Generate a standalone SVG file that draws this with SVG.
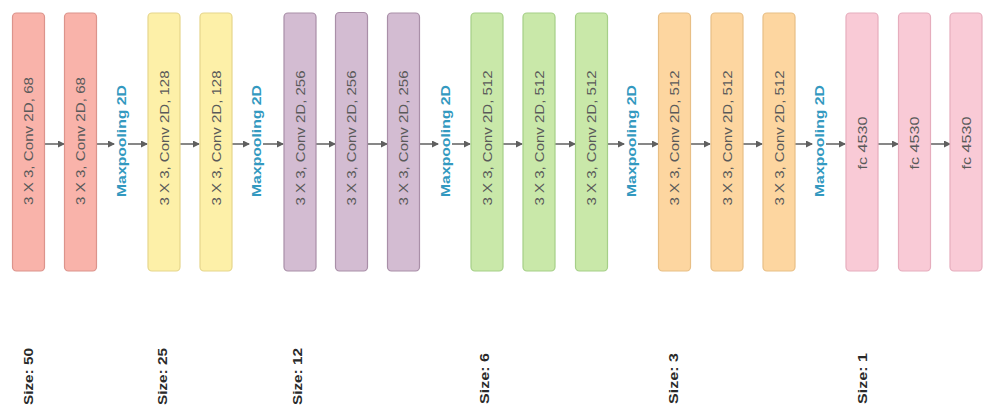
<svg xmlns="http://www.w3.org/2000/svg" width="989" height="413" viewBox="0 0 989 413">
  <style>
    .box { stroke-width: 1.2; }
    .c1 { fill: #f9b3aa; stroke: #dc948c; }
    .c2 { fill: #fdf0a8; stroke: #e6d68c; }
    .c3 { fill: #d3bcd2; stroke: #a98fa8; }
    .c4 { fill: #c9e8a9; stroke: #a6cf88; }
    .c5 { fill: #fdd6a0; stroke: #e8bf86; }
    .c6 { fill: #f9cad6; stroke: #e6adbd; }
    .lbl { font-family: "Liberation Sans", Arial, sans-serif; font-size: 13px; fill: #5a5a5a; text-anchor: middle; dominant-baseline: central; }
    .mp { font-family: "Liberation Sans", Arial, sans-serif; font-size: 13.5px; font-weight: bold; fill: #3399c0; text-anchor: middle; dominant-baseline: central; }
    .size { font-family: "Liberation Sans", Arial, sans-serif; font-size: 13.5px; font-weight: bold; fill: #2a2a2a; text-anchor: start; dominant-baseline: central; }
    .arr { stroke: #5f5f5f; stroke-width: 1.5; fill: none; marker-end: url(#ah); }
  </style>
  <defs>
    <marker id="ah" markerWidth="7" markerHeight="7" refX="6" refY="3.5" orient="auto" markerUnits="userSpaceOnUse">
      <path d="M0,0 L7,3.5 L0,7 Z" fill="#5f5f5f"/>
    </marker>
  </defs>
  <rect width="989" height="413" fill="#ffffff"/>

  <g id="connectors">
    <path class="arr" d="M45,144 H64"/>
    <path class="arr" d="M97,144 H114"/>
    <path class="arr" d="M128,144 H147"/>
    <path class="arr" d="M180,144 H199"/>
    <path class="arr" d="M232,144 H249"/>
    <path class="arr" d="M263,144 H283"/>
    <path class="arr" d="M316,144 H335"/>
    <path class="arr" d="M367,144 H387"/>
    <path class="arr" d="M419,144 H438"/>
    <path class="arr" d="M452,144 H470"/>
    <path class="arr" d="M503,144 H522"/>
    <path class="arr" d="M555,144 H575"/>
    <path class="arr" d="M607,144 H624"/>
    <path class="arr" d="M638,144 H658"/>
    <path class="arr" d="M690,144 H710"/>
    <path class="arr" d="M743,144 H762"/>
    <path class="arr" d="M795,144 H812"/>
    <path class="arr" d="M826,144 H845"/>
    <path class="arr" d="M878,144 H898"/>
    <path class="arr" d="M930,144 H950"/>
  </g>

  <g id="conv1a"><rect class="box c1" x="12.5" y="13" width="32" height="258" rx="4"/><text class="lbl" textLength="128" lengthAdjust="spacingAndGlyphs" transform="translate(28.5,141) rotate(-90)">3 X 3, Conv 2D, 68</text></g>
  <g id="conv1b"><rect class="box c1" x="64.5" y="13" width="32" height="258" rx="4"/><text class="lbl" textLength="128" lengthAdjust="spacingAndGlyphs" transform="translate(80.5,141) rotate(-90)">3 X 3, Conv 2D, 68</text></g>
  <g id="pool1"><text class="mp" textLength="112" lengthAdjust="spacingAndGlyphs" transform="translate(121.5,141) rotate(-90)">Maxpooling 2D</text></g>
  <g id="conv2a"><rect class="box c2" x="148" y="13" width="32" height="258" rx="4"/><text class="lbl" textLength="135" lengthAdjust="spacingAndGlyphs" transform="translate(164,138) rotate(-90)">3 X 3, Conv 2D, 128</text></g>
  <g id="conv2b"><rect class="box c2" x="200" y="13" width="32" height="258" rx="4"/><text class="lbl" textLength="135" lengthAdjust="spacingAndGlyphs" transform="translate(216,138) rotate(-90)">3 X 3, Conv 2D, 128</text></g>
  <g id="pool2"><text class="mp" textLength="112" lengthAdjust="spacingAndGlyphs" transform="translate(256,141) rotate(-90)">Maxpooling 2D</text></g>
  <g id="conv3a"><rect class="box c3" x="284" y="13" width="32" height="258" rx="4"/><text class="lbl" textLength="135" lengthAdjust="spacingAndGlyphs" transform="translate(300,138) rotate(-90)">3 X 3, Conv 2D, 256</text></g>
  <g id="conv3b"><rect class="box c3" x="335.5" y="12.5" width="32" height="258.5" rx="4"/><text class="lbl" textLength="135" lengthAdjust="spacingAndGlyphs" transform="translate(351.5,138) rotate(-90)">3 X 3, Conv 2D, 256</text></g>
  <g id="conv3c"><rect class="box c3" x="387.5" y="13" width="32" height="258" rx="4"/><text class="lbl" textLength="135" lengthAdjust="spacingAndGlyphs" transform="translate(403.5,138) rotate(-90)">3 X 3, Conv 2D, 256</text></g>
  <g id="pool3"><text class="mp" textLength="112" lengthAdjust="spacingAndGlyphs" transform="translate(445,141) rotate(-90)">Maxpooling 2D</text></g>
  <g id="conv4a"><rect class="box c4" x="471" y="13" width="32" height="258" rx="4"/><text class="lbl" textLength="135" lengthAdjust="spacingAndGlyphs" transform="translate(487,138) rotate(-90)">3 X 3, Conv 2D, 512</text></g>
  <g id="conv4b"><rect class="box c4" x="523" y="13" width="32" height="258" rx="4"/><text class="lbl" textLength="135" lengthAdjust="spacingAndGlyphs" transform="translate(539,138) rotate(-90)">3 X 3, Conv 2D, 512</text></g>
  <g id="conv4c"><rect class="box c4" x="575.5" y="13" width="32" height="258" rx="4"/><text class="lbl" textLength="135" lengthAdjust="spacingAndGlyphs" transform="translate(591.5,138) rotate(-90)">3 X 3, Conv 2D, 512</text></g>
  <g id="pool4"><text class="mp" textLength="112" lengthAdjust="spacingAndGlyphs" transform="translate(631,141) rotate(-90)">Maxpooling 2D</text></g>
  <g id="conv5a"><rect class="box c5" x="658.5" y="13" width="32" height="258" rx="4"/><text class="lbl" textLength="135" lengthAdjust="spacingAndGlyphs" transform="translate(674.5,138) rotate(-90)">3 X 3, Conv 2D, 512</text></g>
  <g id="conv5b"><rect class="box c5" x="711" y="13" width="32" height="258" rx="4"/><text class="lbl" textLength="135" lengthAdjust="spacingAndGlyphs" transform="translate(727,138) rotate(-90)">3 X 3, Conv 2D, 512</text></g>
  <g id="conv5c"><rect class="box c5" x="763" y="13" width="32" height="258" rx="4"/><text class="lbl" textLength="135" lengthAdjust="spacingAndGlyphs" transform="translate(779,138) rotate(-90)">3 X 3, Conv 2D, 512</text></g>
  <g id="pool5"><text class="mp" textLength="112" lengthAdjust="spacingAndGlyphs" transform="translate(819.5,141) rotate(-90)">Maxpooling 2D</text></g>
  <g id="fc1"><rect class="box c6" x="846" y="13" width="32" height="258" rx="4"/><text class="lbl" textLength="53" lengthAdjust="spacingAndGlyphs" transform="translate(862,143) rotate(-90)">fc 4530</text></g>
  <g id="fc2"><rect class="box c6" x="898.5" y="13" width="32" height="258" rx="4"/><text class="lbl" textLength="53" lengthAdjust="spacingAndGlyphs" transform="translate(914.5,143) rotate(-90)">fc 4530</text></g>
  <g id="fc3"><rect class="box c6" x="950" y="13" width="32" height="258" rx="4"/><text class="lbl" textLength="53" lengthAdjust="spacingAndGlyphs" transform="translate(966,143) rotate(-90)">fc 4530</text></g>

  <g id="sizes">
    <text class="size" textLength="57" lengthAdjust="spacingAndGlyphs" transform="translate(28.5,405) rotate(-90)">Size: 50</text>
    <text class="size" textLength="57" lengthAdjust="spacingAndGlyphs" transform="translate(162.5,405) rotate(-90)">Size: 25</text>
    <text class="size" textLength="57" lengthAdjust="spacingAndGlyphs" transform="translate(297,405) rotate(-90)">Size: 12</text>
    <text class="size" textLength="51" lengthAdjust="spacingAndGlyphs" transform="translate(484,404) rotate(-90)">Size: 6</text>
    <text class="size" textLength="51" lengthAdjust="spacingAndGlyphs" transform="translate(673,404) rotate(-90)">Size: 3</text>
    <text class="size" textLength="51" lengthAdjust="spacingAndGlyphs" transform="translate(862,404) rotate(-90)">Size: 1</text>
  </g>
</svg>
